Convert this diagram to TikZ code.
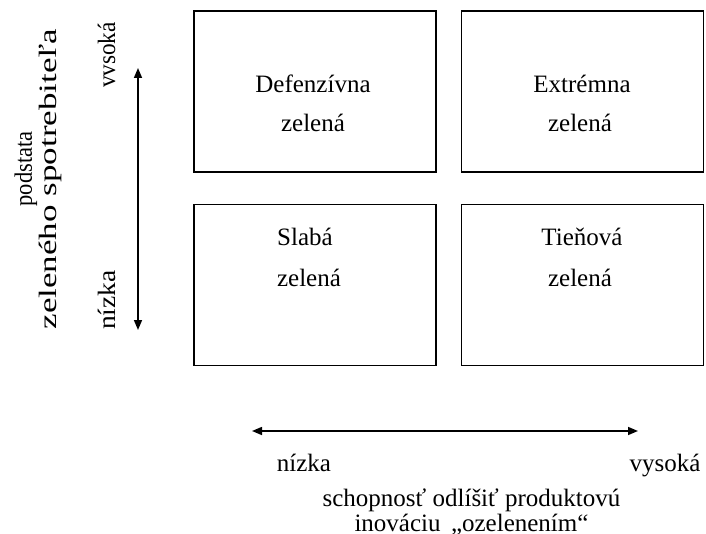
\documentclass[tikz,border=0pt]{standalone}
\usepackage{fontspec}
\setmainfont{Liberation Serif}
\usetikzlibrary{arrows.meta}

\tikzset{
  quad/.style={draw, line width=0.75pt, minimum width=121pt, minimum height=80.5pt, inner sep=0pt},
  word/.style={inner sep=0pt, anchor=base, font=\fontsize{12.5}{12.5}\selectfont},
  axis/.style={line width=0.75pt, {Triangle[length=5pt,width=4pt]}-{Triangle[length=5pt,width=4pt]}}
}

\begin{document}
\begin{tikzpicture}[x=0.5pt, y=-0.5pt]

\useasboundingbox (0,0) rectangle (706,534);

% the four boxes
\foreach \n/\x/\y in {def/315/91.5, ext/582.5/91.5, sla/315/285, tie/582.5/285}{
       \node[quad] (\n) at (\x, \y) {};
}
\foreach \n/\x/\y/\t in {deft/313/92.7/Defenzívna, defz/313/131.7/zelená,
                          extt/582/92.7/Extrémna, extz/580/131.7/zelená,
                          slat/305/245/Slabá, slaz/309/286/zelená,
                          tiet/582/245/Tieňová, tiez/580/286/zelená}{
       \node[word] (\n) at (\x, \y) {\t};
}

% vertical axis
\coordinate (vtop) at (138, 68);
\coordinate (vbot) at (138, 330);
\draw[axis] (vbot) -- (vtop);
\node[word, rotate=90, xscale=0.93] (vhigh) at (115, 55) {vvsoká};
\node[word, rotate=90, xscale=1.1] (vlow) at (115, 300) {nízka};
\node[word, rotate=90, xscale=0.9] (vname1) at (32, 169) {podstata};
\node[word, rotate=90, xscale=1.4] (vname2) at (56, 179) {zeleného spotrebiteľa};

% horizontal axis
\coordinate (hleft) at (252, 431);
\coordinate (hright) at (638, 431);
\draw[axis] (hleft) -- (hright);
\node[word] (hlow) at (304, 471.7) {nízka};
\node[word] (hhigh) at (665, 471.7) {vysoká};
\node[word] (hname1) at (471.5, 506.7) {schopnosť odlíšiť produktovú};
\node[word] (hname2) at (471.5, 531.7) {inováciu \,„ozelenením“};

\end{tikzpicture}
\end{document}
